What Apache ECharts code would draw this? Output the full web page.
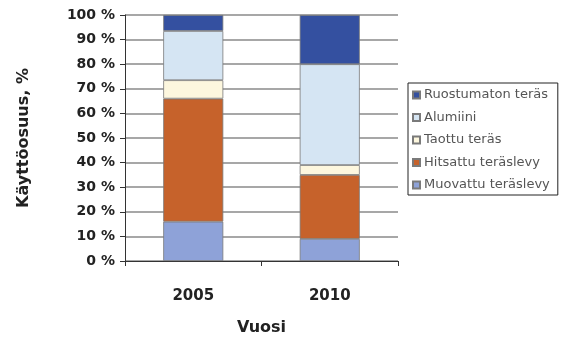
<!DOCTYPE html>
<html>
<head>
<meta charset="utf-8">
<script src="https://cdn.jsdelivr.net/npm/echarts@6/dist/echarts.min.js"></script>
<style>
html,body{margin:0;padding:0;background:#fff;}
#chart{width:562px;height:338px;}
</style>
</head>
<body>
<div id="chart"></div>
<script>
// Käyttöosuus (%) materiaaleittain vuosina 2005 ja 2010
const years = ['2005', '2010'];
const muovattu = [16, 9];
const hitsattu = [50, 26];
const taottu = [7.5, 4];
const alumiini = [20, 41];
const ruostumaton = [6.5, 20];
const yTicks = [0, 10, 20, 30, 40, 50, 60, 70, 80, 90, 100];

const seriesDefs = [
  { name: 'Muovattu teräslevy', data: muovattu, color: '#8ea2d8' },
  { name: 'Hitsattu teräslevy', data: hitsattu, color: '#c6622b' },
  { name: 'Taottu teräs', data: taottu, color: '#fdf7de' },
  { name: 'Alumiini', data: alumiini, color: '#d5e5f3' },
  { name: 'Ruostumaton teräs', data: ruostumaton, color: '#3450a0' }
];

const chart = echarts.init(document.getElementById('chart'), null, { renderer: 'canvas' });
const boldFont = 'DejaVu Sans, Verdana, sans-serif';

chart.setOption({
  backgroundColor: '#ffffff',
  animation: false,
  grid: { left: 125, right: 164, top: 15, bottom: 77, containLabel: false, outerBoundsMode: 'none' },
  legend: {
    orient: 'vertical',
    left: 408,
    top: 83,
    padding: [5, 8, 3, 4],
    itemGap: 8.5,
    itemWidth: 7,
    itemHeight: 7,
    borderColor: '#222',
    borderWidth: 1,
    icon: 'rect',
    data: seriesDefs.map(s => s.name).reverse(),
    textStyle: { fontFamily: boldFont, fontSize: 13, color: '#555', padding: [0, 0, 0, -1], lineHeight: 14 }
  },
  xAxis: {
    type: 'category',
    data: years,
    name: 'Vuosi',
    nameLocation: 'middle',
    nameGap: 59,
    nameTextStyle: { fontFamily: boldFont, fontSize: 16, fontWeight: 'bold', color: '#222' },
    axisLine: { lineStyle: { color: '#333', width: 1 } },
    axisTick: { show: true, length: 5, lineStyle: { color: '#333' } },
    axisLabel: { fontFamily: boldFont, fontSize: 15, fontWeight: 'bold', color: '#222', margin: 28 }
  },
  yAxis: {
    type: 'value',
    min: 0,
    max: 100,
    interval: 10,
    name: 'Käyttöosuus, %',
    nameLocation: 'middle',
    nameGap: 93,
    nameRotate: 90,
    nameTextStyle: { fontFamily: boldFont, fontSize: 16, fontWeight: 'bold', color: '#222' },
    axisLine: { show: true, lineStyle: { color: '#333', width: 1 } },
    axisTick: { show: true, length: 5, lineStyle: { color: '#333' } },
    axisLabel: {
      fontFamily: boldFont, fontSize: 14, fontWeight: 'bold', color: '#222', margin: 10,
      formatter: v => (yTicks.includes(v) ? v + ' %' : '')
    },
    splitLine: { show: true, lineStyle: { color: '#8a8a8a', width: 1.5 } }
  },
  series: seriesDefs.map(s => ({
    name: s.name,
    type: 'bar',
    stack: 'total',
    data: s.data,
    barWidth: '44%',
    itemStyle: { color: s.color, borderColor: '#7a7a7a', borderWidth: 0.8 }
  }))
});
</script>
</body>
</html>
